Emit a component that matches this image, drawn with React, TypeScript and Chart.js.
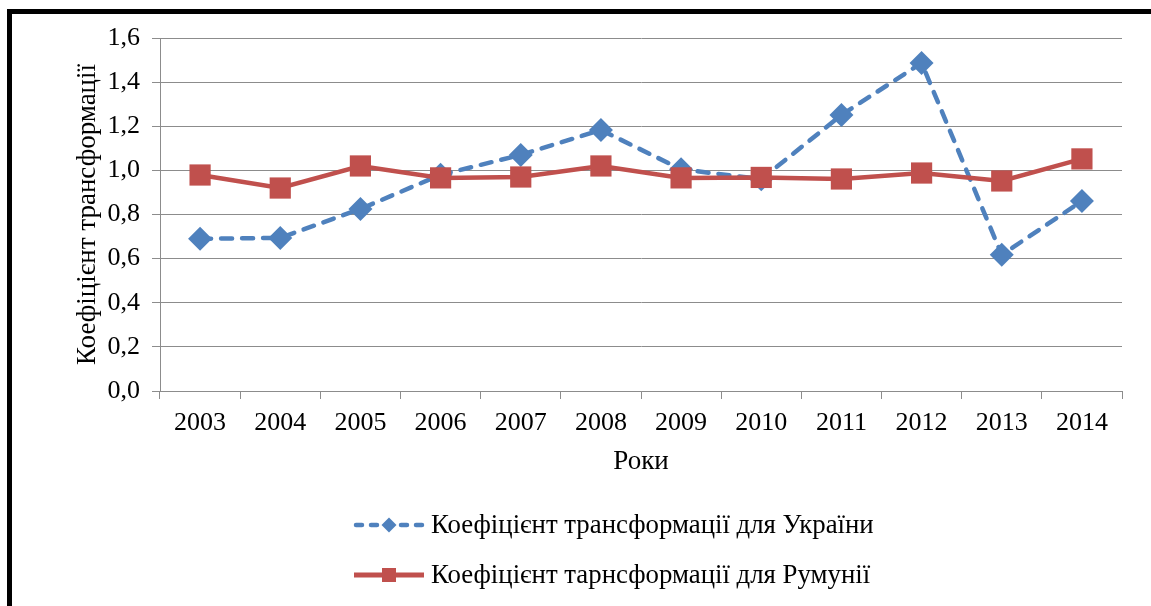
import React, { useEffect, useRef } from "react";
import { Chart, registerables } from "chart.js";

Chart.register(...registerables);

const years = ["2003", "2004", "2005", "2006", "2007", "2008", "2009", "2010", "2011", "2012", "2013", "2014"];
const ukraine = [0.69, 0.694, 0.825, 0.98, 1.07, 1.183, 1.005, 0.96, 1.251, 1.487, 0.617, 0.861];
const romania = [0.979, 0.92, 1.02, 0.966, 0.97, 1.02, 0.966, 0.968, 0.961, 0.988, 0.952, 1.052];
const ukraineLabel = "Коефіцієнт трансформації для України";
const romaniaLabel = "Коефіцієнт тарнсформації для Румунії";
const yTitle = "Коефіцієнт трансформації";
const xTitle = "Роки";

const BLUE = "#4F81BD";
const RED = "#C0504D";
const GRID = "#8c8c8c";
const FONT = "'Liberation Serif', 'Times New Roman', serif";

const legendPlugin = {
  id: "customLegend",
  afterDraw(chart: any) {
    const ctx = chart.ctx as CanvasRenderingContext2D;
    const rows = chart.data.datasets.map((d: any) => d);
    const order = [1, 0];
    const ys = [525, 575];
    ctx.save();
    order.forEach((di, i) => {
      const ds = rows[di];
      const y = ys[i];
      const x0 = 354;
      const x1 = 424;
      ctx.strokeStyle = ds.borderColor;
      ctx.lineWidth = ds.legendLineWidth;
      ctx.setLineDash(ds.legendDash);
      ctx.lineCap = ds.legendCap;
      ctx.beginPath();
      ctx.moveTo(x0 + (ds.legendCap === "round" ? 2 : 0), y);
      ctx.lineTo(x1 - (ds.legendCap === "round" ? 2 : 0), y);
      ctx.stroke();
      ctx.setLineDash([]);
      ctx.fillStyle = ds.backgroundColor;
      const cx = (x0 + x1) / 2;
      if (ds.pointStyle === "rectRot") {
        const r = 7.5;
        ctx.beginPath();
        ctx.moveTo(cx - r, y);
        ctx.lineTo(cx, y - r);
        ctx.lineTo(cx + r, y);
        ctx.lineTo(cx, y + r);
        ctx.closePath();
        ctx.fill();
      } else {
        const s = 14;
        ctx.fillRect(cx - s / 2, y - s / 2, s, s);
      }
      ctx.fillStyle = "#000";
      ctx.font = `26.8px ${FONT}`;
      ctx.textBaseline = "middle";
      ctx.textAlign = "left";
      ctx.fillText(ds.label, 431, y + 1);
    });
    ctx.restore();
  },
};

export default function App() {
  const ref = useRef<HTMLCanvasElement>(null);
  useEffect(() => {
    if (!ref.current) return;
    const chart = new Chart(ref.current, {
      type: "line",
      data: {
        labels: years,
        datasets: [
          {
            label: romaniaLabel,
            data: romania,
            borderColor: RED,
            backgroundColor: RED,
            borderWidth: 4.5,
            pointStyle: "rect",
            pointRadius: 15,
            pointBorderWidth: 0,
            pointBackgroundColor: RED,
            order: 0,
            legendLineWidth: 5,
            legendDash: [],
            legendCap: "butt",
          } as any,
          {
            label: ukraineLabel,
            data: ukraine,
            borderColor: BLUE,
            backgroundColor: BLUE,
            borderWidth: 4.5,
            borderDash: [11, 10],
            borderCapStyle: "round",
            pointStyle: "rectRot",
            pointRadius: 12,
            pointBorderWidth: 0,
            pointBackgroundColor: BLUE,
            order: 1,
            legendLineWidth: 4.5,
            legendDash: [6, 9],
            legendCap: "round",
          } as any,
        ],
      },
      options: {
        animation: false,
        responsive: false,
        events: [],
        layout: { padding: { left: 72, right: 29, top: 38, bottom: 125 } },
        plugins: { legend: { display: false }, tooltip: { enabled: false } },
        scales: {
          x: {
            offset: true,
            grid: {
              offset: true,
              drawOnChartArea: false,
              drawTicks: true,
              tickLength: 8,
              color: GRID,
            },
            border: { color: GRID, width: 1 },
            ticks: {
              color: "#000",
              padding: 9,
              maxRotation: 0,
              autoSkip: false,
              font: { family: FONT, size: 26 },
            },
            title: {
              display: true,
              text: xTitle,
              color: "#000",
              font: { family: FONT, size: 27 },
              padding: { top: 0, bottom: 3 },
            },
            afterFit(scale: any) {
              scale.height = 90;
            },
          },
          y: {
            min: 0,
            max: 1.6,
            grid: { color: GRID, tickLength: 8, lineWidth: 1 },
            border: { color: GRID, width: 1 },
            ticks: {
              stepSize: 0.2,
              color: "#000",
              padding: 12,
              font: { family: FONT, size: 26 },
              callback: (v: any) => Number(v).toFixed(1).replace(".", ","),
            },
            title: {
              display: true,
              text: yTitle,
              color: "#000",
              font: { family: FONT, size: 27 },
              padding: { top: 0, bottom: 0 },
            },
            afterFit(scale: any) {
              scale.width = 88;
            },
          },
        },
      },
      plugins: [legendPlugin],
    });
    return () => chart.destroy();
  }, []);

  return (
    <div style={{ position: "fixed", left: 0, top: 0, width: 1151, height: 606, background: "#fff", overflow: "hidden" }}>
      <canvas ref={ref} width={1151} height={606} style={{ position: "absolute", left: 0, top: 0, width: 1151, height: 606 }} />
      <div style={{ position: "absolute", left: 7, top: 9, width: 5, height: 597, background: "#000" }} />
      <div style={{ position: "absolute", left: 7, top: 9, width: 1144, height: 5, background: "#000" }} />
    </div>
  );
}
